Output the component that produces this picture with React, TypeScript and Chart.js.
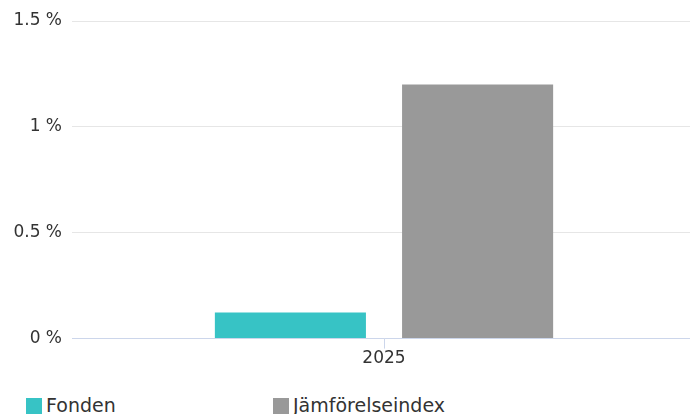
import React, { useEffect, useRef } from "react";
import { Chart, registerables } from "chart.js";

Chart.register(...registerables);

const categories: string[] = ["2025"];
const seriesNames: string[] = ["Fonden", "Jämförelseindex"];
const fondenValues: number[] = [0.123];
const indexValues: number[] = [1.2];
const seriesColors: string[] = ["#37C3C5", "#999999"];
const yTicks: number[] = [0, 0.5, 1, 1.5];

const FONT = "'DejaVu Sans', Verdana, sans-serif";

export default function App() {
  const ref = useRef<HTMLCanvasElement | null>(null);

  useEffect(() => {
    document.body.style.margin = "0";
    if (!ref.current) return;
    const chart = new Chart(ref.current, {
      type: "bar",
      data: {
        labels: categories,
        datasets: [
          {
            label: seriesNames[0],
            data: fondenValues,
            backgroundColor: seriesColors[0],
            borderWidth: 0,
            barPercentage: 0.807,
            categoryPercentage: 0.6,
          },
          {
            label: seriesNames[1],
            data: indexValues,
            backgroundColor: seriesColors[1],
            borderWidth: 0,
            barPercentage: 0.807,
            categoryPercentage: 0.6,
          },
        ],
      },
      options: {
        animation: false,
        responsive: true,
        maintainAspectRatio: false,
        layout: { padding: { top: 21, bottom: 0, left: 0, right: 0 } },
        plugins: {
          legend: { display: false },
          tooltip: { enabled: false },
        },
        scales: {
          x: {
            grid: {
              offset: false,
              drawOnChartArea: false,
              drawTicks: true,
              tickLength: 10,
              color: "#ccd6eb",
            },
            border: { display: true, color: "#ccd6eb", width: 1 },
            ticks: {
              padding: 0,
              color: "#333333",
              font: { family: FONT, size: 17 },
            },
          },
          y: {
            min: 0,
            max: 1.5,
            afterBuildTicks: (scale: any) => {
              scale.ticks = yTicks.map((v) => ({ value: v }));
            },
            afterFit: (scale: any) => {
              scale.width = 72;
            },
            grid: { color: "#e6e6e6", drawTicks: false },
            border: { display: false },
            ticks: {
              padding: 10,
              color: "#333333",
              font: { family: FONT, size: 17 },
              callback: (v: any) => `${v} %`,
            },
          },
        },
      },
    });
    return () => chart.destroy();
  }, []);

  return (
    <div
      style={{
        position: "absolute",
        left: 0,
        top: 0,
        width: 690,
        height: 414,
        overflow: "hidden",
        background: "#ffffff",
      }}
    >
      <div style={{ position: "absolute", left: 0, top: 0, width: 696, height: 369 }}>
        <canvas ref={ref} />
      </div>
      {seriesNames.map((name, i) => (
        <div
          key={name}
          style={{
            position: "absolute",
            left: i === 0 ? 26 : 273,
            top: 396,
            display: "flex",
            alignItems: "flex-start",
            whiteSpace: "nowrap",
          }}
        >
          <div
            style={{
              width: 16,
              height: 16,
              marginTop: 2,
              background: seriesColors[i],
              marginRight: 4,
            }}
          />
          <span
            style={{
              fontFamily: FONT,
              fontSize: 19,
              lineHeight: "19px",
              color: "#333333",
            }}
          >
            {name}
          </span>
        </div>
      ))}
    </div>
  );
}
